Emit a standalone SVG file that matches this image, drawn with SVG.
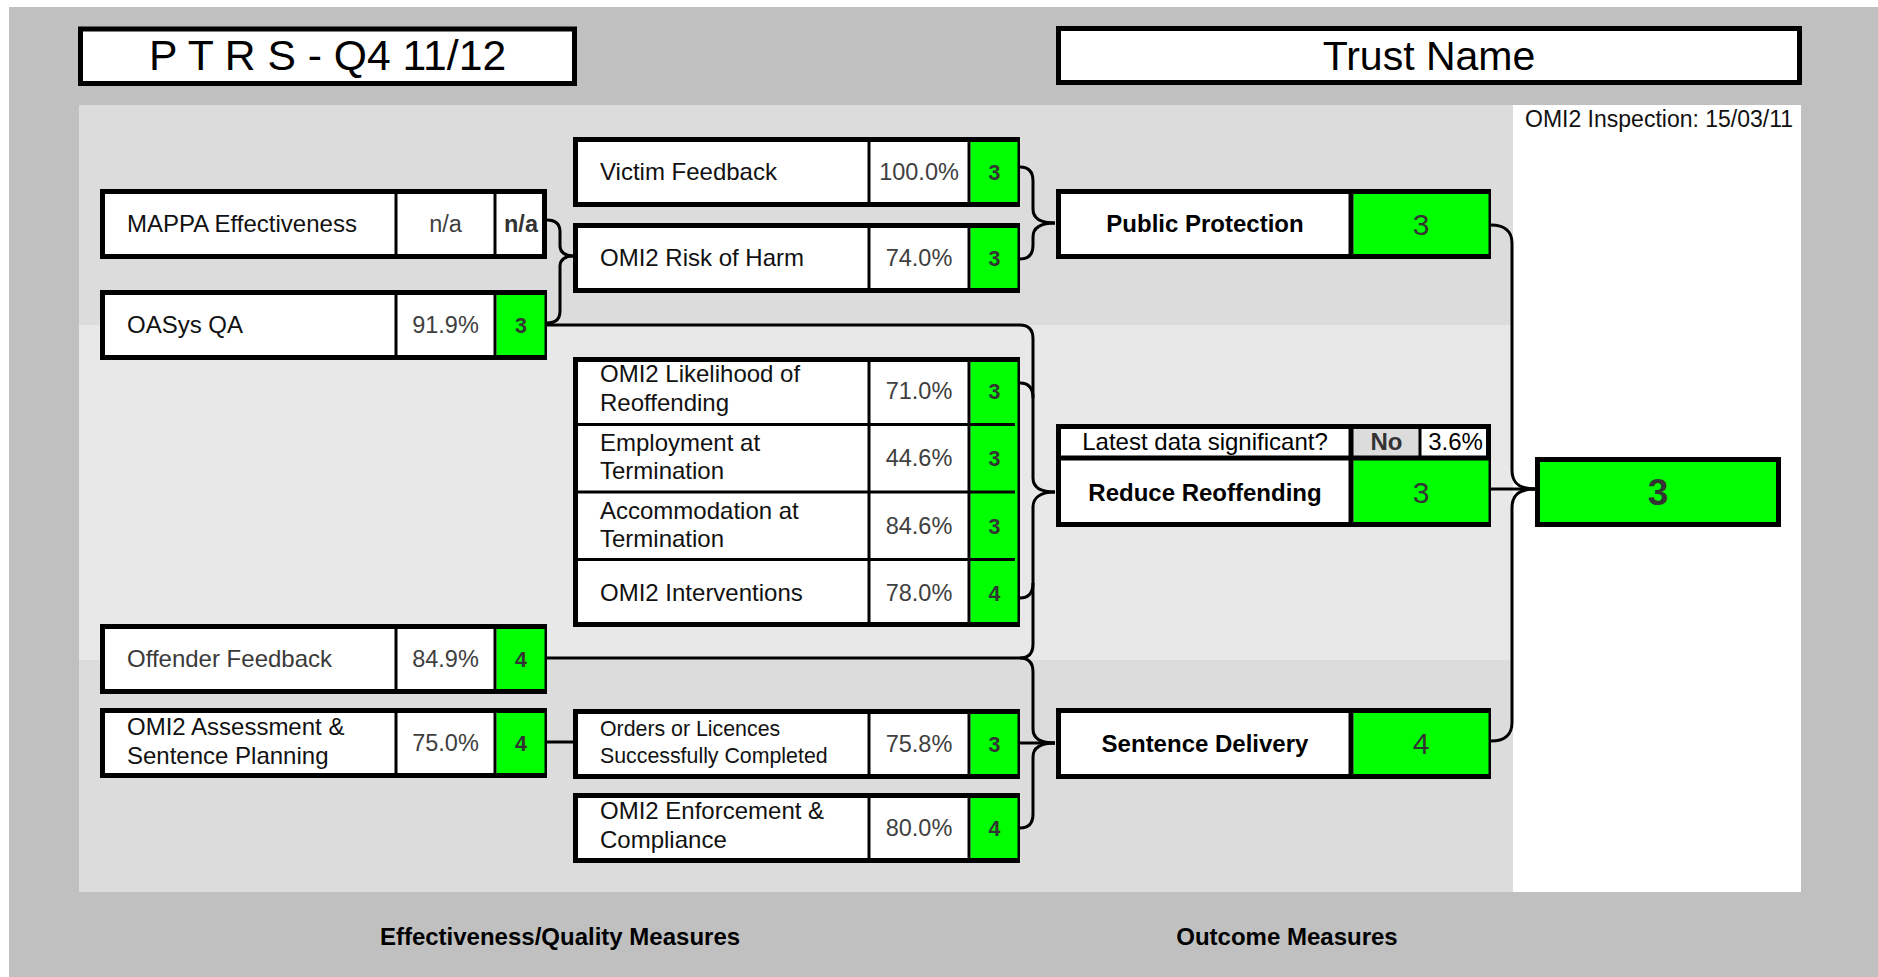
<svg xmlns="http://www.w3.org/2000/svg" width="1878" height="977" viewBox="0 0 1878 977">
<style>
.box{fill:#fff;stroke:#000;stroke-width:5}
.ol{fill:none;stroke:#000;stroke-width:5}
.g{fill:#00ff00}
.gr{fill:#dcdcdc}
.dv{stroke:#000;stroke-width:3}
.dvt{stroke:#000;stroke-width:5}
.t{font-family:"Liberation Sans",Arial,sans-serif;font-size:24px;fill:#111}
.ts{font-size:21.33px}
.c{text-anchor:middle}
.pct{font-family:"Liberation Sans",Arial,sans-serif;font-size:23.5px;fill:#404040;text-anchor:middle}
.num{font-family:"Liberation Sans",Arial,sans-serif;font-size:21.33px;font-weight:bold;fill:#333;text-anchor:middle}
.b{font-weight:bold}
.big{font-family:"Liberation Sans",Arial,sans-serif;font-size:30px;fill:#333;text-anchor:middle}
.con{fill:none;stroke:#000;stroke-width:3}
</style>
<rect x="9" y="7" width="1869" height="970" fill="#c0c0c0"/>
<rect x="79" y="105" width="1435" height="220" fill="#dcdcdc"/>
<rect x="79" y="325" width="1435" height="335" fill="#e8e8e8"/>
<rect x="79" y="660" width="1435" height="232" fill="#dcdcdc"/>
<rect x="1513" y="105" width="288" height="787" fill="#fff"/>
<text class="t" x="1525" y="127" style="font-size:23px">OMI2 Inspection: 15/03/11</text>
<text class="t b c" x="560" y="945" style="fill:#000">Effectiveness/Quality Measures</text>
<text class="t b c" x="1287" y="945" style="fill:#000">Outcome Measures</text>

<g id="title">
<rect class="box" x="80.5" y="29" width="494" height="54.5"/>
<text class="t c" x="327.5" y="69.5" style="font-size:42.67px;fill:#000">P T R S - Q4 11/12</text>
</g>
<g id="trust">
<rect class="box" x="1058.5" y="28.5" width="741" height="54"/>
<text class="t c" x="1429" y="69.5" style="font-size:41px;fill:#000">Trust Name</text>
</g>

<g id="connectors">
<path class="con" d="M547,220 C556,220 560,224 560,232 V246 C560,252 565,256 573,256"/>
<path class="con" d="M547,323 C556,323 560,319 560,311 V266 C560,260 565,256 573,256"/>
<path class="con" d="M547,325 H1020 C1029,325 1033,330 1033,339 V478 C1033,487 1040,492 1055,492"/>
<path class="con" d="M1020,383 C1029,383 1033,388 1033,398"/>
<path class="con" d="M1020,598 C1029,598 1033,593 1033,583"/>
<path class="con" d="M547,658 H1020 C1029,658 1033,653 1033,644 V507 C1033,498 1040,492 1055,492"/>
<path class="con" d="M1020,658 C1029,658 1033,663 1033,672 V729 C1033,738 1040,743 1055,743"/>
<path class="con" d="M1020,743 H1055"/>
<path class="con" d="M1020,828 C1029,828 1033,823 1033,814 V757 C1033,748 1040,743 1055,743"/>
<path class="con" d="M547,742 H573"/>
<path class="con" d="M1020,167 C1029,167 1033,172 1033,181 V209 C1033,218 1040,223 1055,223"/>
<path class="con" d="M1020,259 C1029,259 1033,254 1033,245 V237 C1033,228 1040,223 1055,223"/>
<path class="con" d="M1491,225 C1504,225 1512,231 1512,243 V470 C1512,482 1518,489 1535,489"/>
<path class="con" d="M1491,489 H1535"/>
<path class="con" d="M1491,741 C1504,741 1512,735 1512,723 V508 C1512,496 1518,489 1535,489"/>
</g>

<g id="mappa">
<rect class="box" x="102.5" y="191.5" width="442" height="65"/>
<line class="dv" x1="396" y1="194" x2="396" y2="254"/>
<line class="dv" x1="495" y1="194" x2="495" y2="254"/>
<text class="t" x="127" y="232">MAPPA Effectiveness</text>
<text class="pct" x="445.5" y="232">n/a</text>
<text class="pct b" x="521" y="232" style="fill:#333">n/a</text>
</g>
<g id="oasys">
<rect class="box" x="102.5" y="292.5" width="442" height="65"/>
<rect class="g" x="496.5" y="295" width="48" height="60"/>
<line class="dv" x1="396" y1="295" x2="396" y2="355"/>
<line class="dv" x1="495" y1="295" x2="495" y2="355"/>
<text class="t" x="127" y="333">OASys QA</text>
<text class="pct" x="445.5" y="333">91.9%</text>
<text class="num" x="521" y="333">3</text>
</g>
<g id="offender">
<rect class="box" x="102.5" y="626.5" width="442" height="65"/>
<rect class="g" x="496.5" y="629" width="48" height="60"/>
<line class="dv" x1="396" y1="629" x2="396" y2="689"/>
<line class="dv" x1="495" y1="629" x2="495" y2="689"/>
<text class="t" x="127" y="667" style="fill:#3a3a3a">Offender Feedback</text>
<text class="pct" x="445.5" y="667">84.9%</text>
<text class="num" x="521" y="667">4</text>
</g>
<g id="assessment">
<rect class="box" x="102.5" y="710.5" width="442" height="65"/>
<rect class="g" x="496.5" y="713" width="48" height="60"/>
<line class="dv" x1="396" y1="713" x2="396" y2="773"/>
<line class="dv" x1="495" y1="713" x2="495" y2="773"/>
<text class="t" x="127" y="735">OMI2 Assessment &amp;</text>
<text class="t" x="127" y="764">Sentence Planning</text>
<text class="pct" x="445.5" y="751">75.0%</text>
<text class="num" x="521" y="751">4</text>
</g>

<g id="victim">
<rect class="box" x="575.5" y="139.5" width="442" height="65"/>
<rect class="g" x="970.5" y="142" width="47" height="60"/>
<line class="dv" x1="869" y1="142" x2="869" y2="202"/>
<line class="dv" x1="969" y1="142" x2="969" y2="202"/>
<text class="t" x="600" y="180">Victim Feedback</text>
<text class="pct" x="919" y="180">100.0%</text>
<text class="num" x="994.5" y="180">3</text>
</g>
<g id="riskofharm">
<rect class="box" x="575.5" y="225.5" width="442" height="65"/>
<rect class="g" x="970.5" y="228" width="47" height="60"/>
<line class="dv" x1="869" y1="228" x2="869" y2="288"/>
<line class="dv" x1="969" y1="228" x2="969" y2="288"/>
<text class="t" x="600" y="266">OMI2 Risk of Harm</text>
<text class="pct" x="919" y="266">74.0%</text>
<text class="num" x="994.5" y="266">3</text>
</g>
<g id="reoffending-measures">
<rect class="box" x="575.5" y="359.5" width="442" height="265"/>
<rect class="g" x="970.5" y="362" width="47" height="260"/>
<line class="dv" x1="869" y1="362" x2="869" y2="622"/>
<line class="dv" x1="969" y1="362" x2="969" y2="622"/>
<line class="dv" x1="578" y1="424.5" x2="1015" y2="424.5"/>
<line class="dv" x1="578" y1="492" x2="1015" y2="492"/>
<line class="dv" x1="578" y1="559.5" x2="1015" y2="559.5"/>
<text class="t" x="600" y="382">OMI2 Likelihood of</text>
<text class="t" x="600" y="411">Reoffending</text>
<text class="pct" x="919" y="399">71.0%</text>
<text class="num" x="994.5" y="399">3</text>
<text class="t" x="600" y="451">Employment at</text>
<text class="t" x="600" y="479">Termination</text>
<text class="pct" x="919" y="466">44.6%</text>
<text class="num" x="994.5" y="466">3</text>
<text class="t" x="600" y="519">Accommodation at</text>
<text class="t" x="600" y="547">Termination</text>
<text class="pct" x="919" y="534">84.6%</text>
<text class="num" x="994.5" y="534">3</text>
<text class="t" x="600" y="601">OMI2 Interventions</text>
<text class="pct" x="919" y="601">78.0%</text>
<text class="num" x="994.5" y="601">4</text>
</g>
<g id="orders">
<rect class="box" x="575.5" y="711.5" width="442" height="65"/>
<rect class="g" x="970.5" y="714" width="47" height="60"/>
<line class="dv" x1="869" y1="714" x2="869" y2="774"/>
<line class="dv" x1="969" y1="714" x2="969" y2="774"/>
<text class="t ts" x="600" y="736">Orders or Licences</text>
<text class="t ts" x="600" y="763">Successfully Completed</text>
<text class="pct" x="919" y="752">75.8%</text>
<text class="num" x="994.5" y="752">3</text>
</g>
<g id="enforcement">
<rect class="box" x="575.5" y="795.5" width="442" height="65"/>
<rect class="g" x="970.5" y="798" width="47" height="60"/>
<line class="dv" x1="869" y1="798" x2="869" y2="858"/>
<line class="dv" x1="969" y1="798" x2="969" y2="858"/>
<text class="t" x="600" y="819">OMI2 Enforcement &amp;</text>
<text class="t" x="600" y="848">Compliance</text>
<text class="pct" x="919" y="836">80.0%</text>
<text class="num" x="994.5" y="836">4</text>
</g>

<g id="public-protection">
<rect class="box" x="1058.5" y="191.5" width="430" height="65"/>
<rect class="g" x="1353.5" y="194" width="135" height="60"/>
<line class="dvt" x1="1351" y1="194" x2="1351" y2="254"/>
<text class="t b c" x="1205" y="232" style="fill:#000">Public Protection</text>
<text class="big" x="1421" y="235">3</text>
</g>
<g id="reduce-reoffending">
<rect class="box" x="1058.5" y="426.5" width="430" height="98"/>
<rect class="gr" x="1353" y="429" width="66" height="27"/>
<rect class="g" x="1353.5" y="460" width="135" height="62"/>
<line class="dvt" x1="1058" y1="458" x2="1489" y2="458"/>
<line class="dvt" x1="1351" y1="429" x2="1351" y2="522"/>
<line class="dv" x1="1420" y1="429" x2="1420" y2="456"/>
<text class="t c" x="1205" y="450" style="fill:#000">Latest data significant?</text>
<text class="t b c" x="1386.5" y="450" style="fill:#333">No</text>
<text class="t c" x="1455.5" y="450" style="fill:#000">3.6%</text>
<text class="t b c" x="1205" y="501" style="fill:#000">Reduce Reoffending</text>
<text class="big" x="1421" y="503">3</text>
</g>
<g id="sentence-delivery">
<rect class="box" x="1058.5" y="710.5" width="430" height="66"/>
<rect class="g" x="1353.5" y="713" width="135" height="61"/>
<line class="dvt" x1="1351" y1="713" x2="1351" y2="774"/>
<text class="t b c" x="1205" y="752" style="fill:#000">Sentence Delivery</text>
<text class="big" x="1421" y="754">4</text>
</g>
<g id="overall">
<rect class="box" x="1537.5" y="459.5" width="241" height="65" style="fill:#00ff00"/>
<text class="big b" x="1658" y="505" style="font-size:37px">3</text>
</g>
</svg>
